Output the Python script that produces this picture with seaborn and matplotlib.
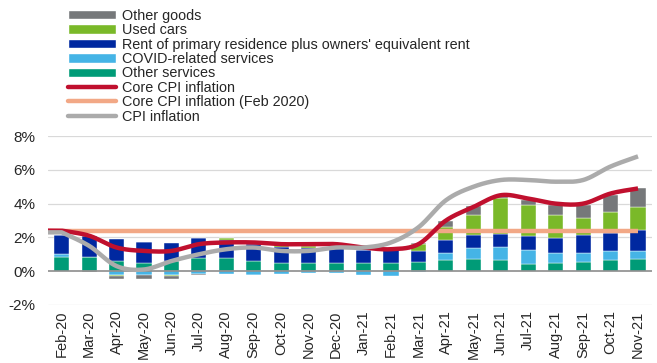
import numpy as np
import pandas as pd
import matplotlib
matplotlib.use("Agg")
import matplotlib.pyplot as plt
import seaborn as sns
from matplotlib.patches import Patch
from matplotlib.lines import Line2D

months = ["Feb-20", "Mar-20", "Apr-20", "May-20", "Jun-20", "Jul-20", "Aug-20",
          "Sep-20", "Oct-20", "Nov-20", "Dec-20", "Jan-21", "Feb-21", "Mar-21",
          "Apr-21", "May-21", "Jun-21", "Jul-21", "Aug-21", "Sep-21", "Oct-21", "Nov-21"]

other_services = [0.82, 0.84, 0.60, 0.47, 0.60, 0.80, 0.76, 0.62, 0.49, 0.49, 0.49,
                  0.46, 0.46, 0.52, 0.67, 0.70, 0.67, 0.41, 0.47, 0.55, 0.67, 0.70]
covid_services = [0.18, 0.00, -0.22, -0.20, -0.20, -0.15, -0.15, -0.20, -0.15, -0.10, -0.10,
                  -0.25, -0.30, -0.05, 0.43, 0.67, 0.76, 0.84, 0.59, 0.53, 0.53, 0.49]
rent = [1.15, 1.27, 1.28, 1.23, 1.05, 1.14, 1.08, 1.00, 0.92, 0.88, 0.88,
        0.80, 0.78, 0.70, 0.73, 0.75, 0.80, 0.86, 0.90, 1.04, 1.04, 1.27]
used_cars = [0.00, 0.00, -0.05, 0.00, -0.08, 0.00, 0.14, 0.14, 0.12, 0.10, 0.05,
             0.00, 0.05, 0.38, 0.80, 1.22, 2.10, 1.82, 1.39, 1.04, 1.25, 1.37]
other_goods = [0.02, -0.05, -0.20, -0.25, -0.20, -0.05, 0.00, -0.05, 0.10, 0.15, 0.10,
               0.10, 0.05, 0.05, 0.37, 0.50, 0.10, 0.30, 0.59, 0.78, 1.04, 1.12]

core_cpi = [2.4, 2.1, 1.4, 1.2, 1.2, 1.6, 1.7, 1.7, 1.6, 1.6, 1.6,
            1.4, 1.3, 1.6, 3.0, 3.8, 4.5, 4.3, 4.0, 4.0, 4.6, 4.9]
core_cpi_feb2020 = [2.4] * len(months)
cpi = [2.3, 1.5, 0.3, 0.1, 0.6, 1.0, 1.3, 1.4, 1.2, 1.2, 1.4,
       1.4, 1.7, 2.6, 4.2, 5.0, 5.4, 5.4, 5.3, 5.4, 6.2, 6.8]

y_ticks = [-2, 0, 2, 4, 6, 8]

sns.set_style("white")
plt.rcParams["font.family"] = ["Liberation Sans", "DejaVu Sans"]

fig = plt.figure(figsize=(6.57, 3.63), dpi=100)
ax = fig.add_axes([0.073, 0.16, 0.919, 0.465])

n = len(months)
components = [
    ("Other services", other_services, "#009B77"),
    ("COVID-related services", covid_services, "#45B4E6"),
    ("Rent of primary residence plus owners' equivalent rent", rent, "#0028A0"),
    ("Used cars", used_cars, "#7AB929"),
    ("Other goods", other_goods, "#76787A"),
]
pos_base = np.zeros(n)
neg_base = np.zeros(n)
for name, vals, color in components:
    v = np.array(vals, dtype=float)
    bottom = np.where(v >= 0, pos_base, neg_base)
    df = pd.DataFrame({"month": months, "value": v})
    sns.barplot(data=df, x="month", y="value", order=months, color=color,
                bottom=bottom, width=0.55, ax=ax, saturation=1,
                edgecolor="white", linewidth=0.3, errorbar=None, zorder=2)
    pos_base += np.where(v >= 0, v, 0)
    neg_base += np.where(v < 0, v, 0)

ax.set_xlim(-0.5, n - 0.5)
x_left = ax.get_xlim()[0]


def smooth(y, per=24):
    x = np.arange(len(y), dtype=float)
    P = np.column_stack([x, np.asarray(y, dtype=float)])
    m = len(y)
    segs = [np.array([[x_left, P[0, 1]]])]
    for i in range(m - 1):
        p0 = P[max(i - 1, 0)]
        p1 = P[i]
        p2 = P[i + 1]
        p3 = P[min(i + 2, m - 1)]
        c1 = p1 + (p2 - p0) / 6.0
        c2 = p2 - (p3 - p1) / 6.0
        t = np.linspace(0, 1, per, endpoint=(i == m - 2))[:, None]
        b = ((1 - t) ** 3) * p1 + 3 * ((1 - t) ** 2) * t * c1 + 3 * (1 - t) * t ** 2 * c2 + t ** 3 * p2
        segs.append(b)
    return np.vstack(segs)


line_specs = [
    (core_cpi_feb2020, "#F2A886"),
    (core_cpi, "#C0102E"),
    (cpi, "#ABABAB"),
]
for vals, color in line_specs:
    s = smooth(vals)
    sns.lineplot(x=s[:, 0], y=s[:, 1], color=color, linewidth=3.2, ax=ax,
                 sort=False, estimator=None, zorder=4, solid_capstyle="butt")

ax.set_xlim(-0.5, n - 0.5)
ax.set_ylim(-2, 8)
ax.set_yticks(y_ticks)
ax.set_yticklabels([f"{t}%" for t in y_ticks], fontsize=11)
ax.set_xticks(range(n))
ax.set_xticklabels(months, rotation=90, fontsize=10.5)
ax.tick_params(axis="y", length=0, pad=9)
ax.tick_params(axis="x", length=0, pad=4)
ax.set_xlabel("")
ax.set_ylabel("")
for sp in ax.spines.values():
    sp.set_visible(False)
for t in y_ticks:
    if t == 0:
        ax.axhline(t, color="#8C8C8C", linewidth=1.2, zorder=3)
    else:
        ax.axhline(t, color="#D9D9D9", linewidth=0.9, zorder=0)

handles = [
    Patch(facecolor="#76787A", label="Other goods"),
    Patch(facecolor="#7AB929", label="Used cars"),
    Patch(facecolor="#0028A0", label="Rent of primary residence plus owners' equivalent rent"),
    Patch(facecolor="#45B4E6", label="COVID-related services"),
    Patch(facecolor="#009B77", label="Other services"),
    Line2D([], [], color="#C0102E", linewidth=3.2, label="Core CPI inflation"),
    Line2D([], [], color="#F2A886", linewidth=3.2, label="Core CPI inflation (Feb 2020)"),
    Line2D([], [], color="#ABABAB", linewidth=3.2, label="CPI inflation"),
]
fig.legend(handles=handles, loc="upper left", bbox_to_anchor=(0.104, 0.976),
           frameon=False, fontsize=10.4, handlelength=3.3, handleheight=0.62,
           handletextpad=0.4, labelspacing=0.03, borderpad=0.0, borderaxespad=0)

fig.savefig("out.png", dpi=100)
